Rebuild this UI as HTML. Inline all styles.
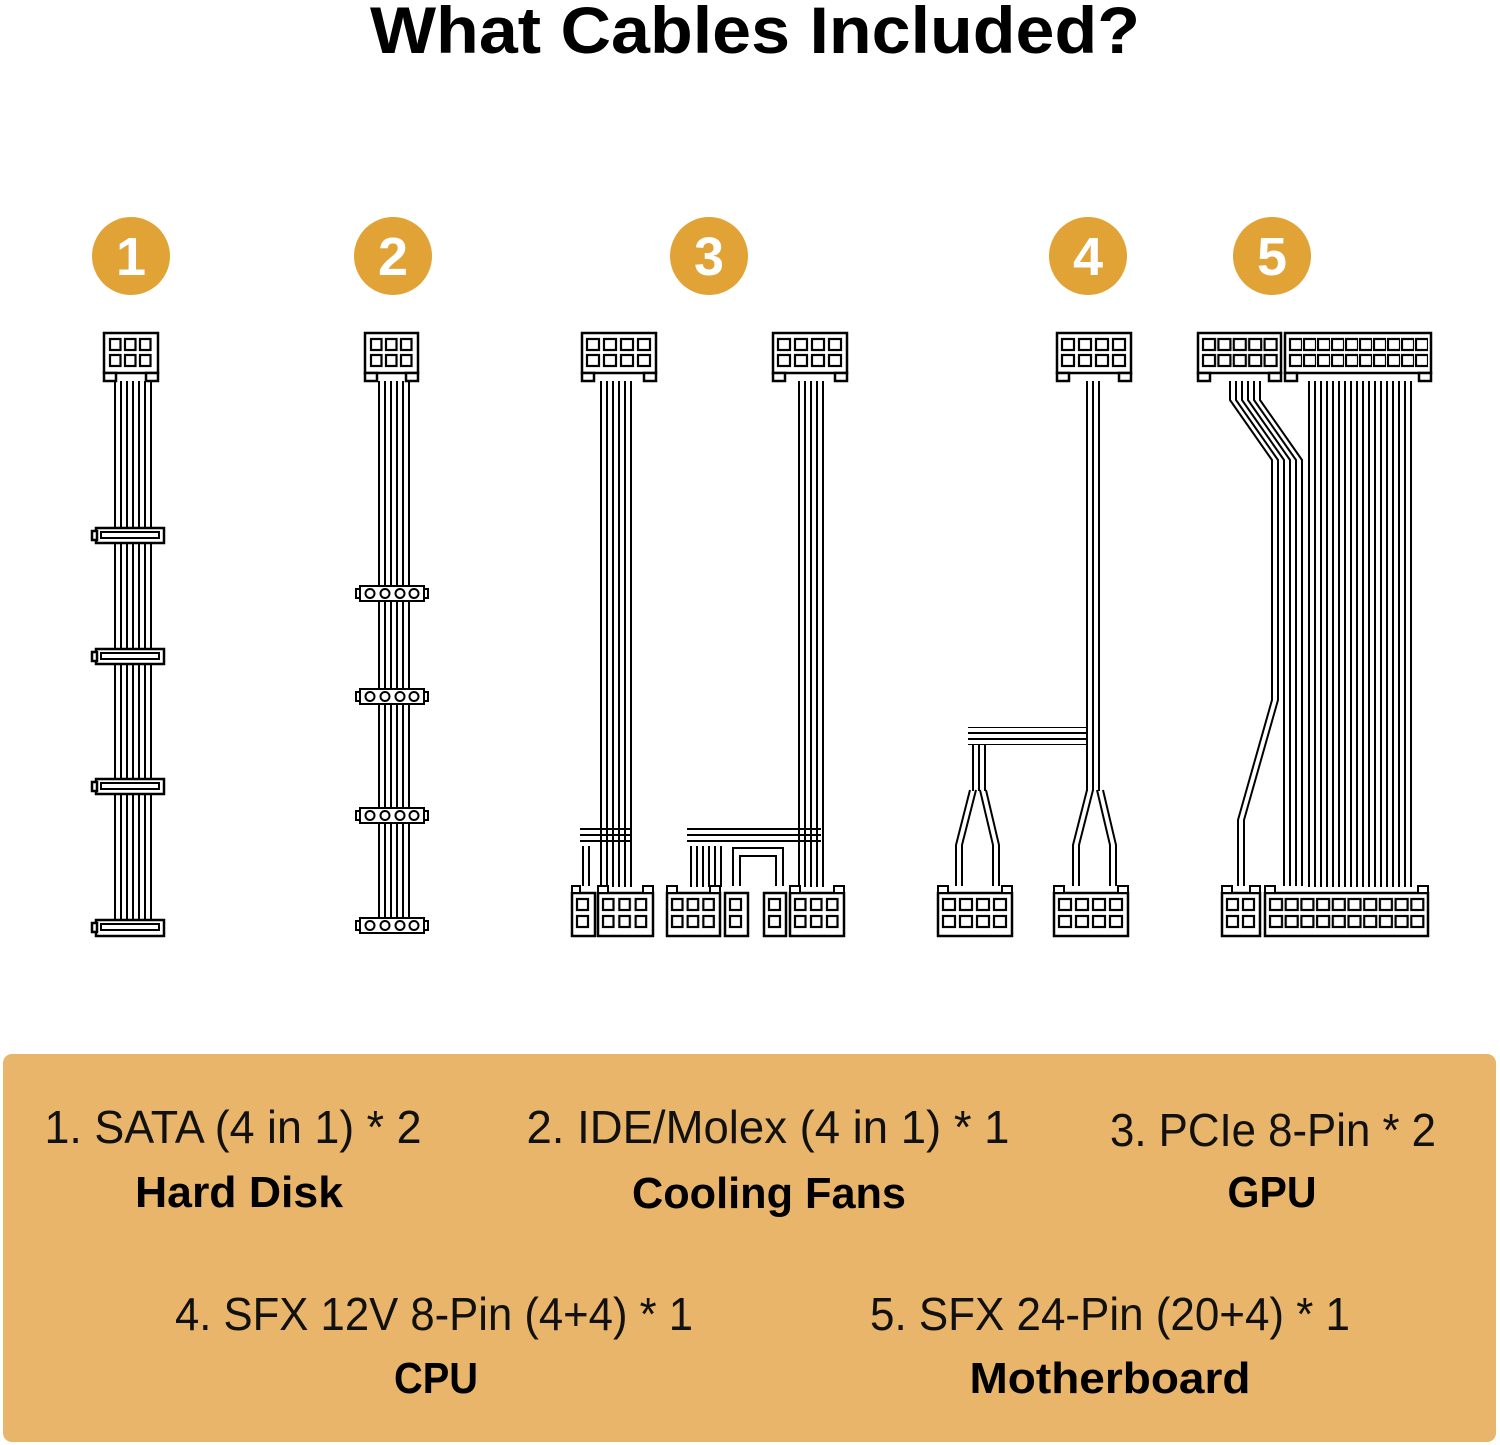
<!DOCTYPE html>
<html><head><meta charset="utf-8"><style>
html,body{margin:0;padding:0;background:#fff;}
svg{display:block;}
</style></head><body>
<svg width="1500" height="1445" viewBox="0 0 1500 1445" xmlns="http://www.w3.org/2000/svg">
<defs>
<pattern id="vw" width="6" height="10" patternUnits="userSpaceOnUse"><rect width="2" height="10" fill="#000"/></pattern>
<pattern id="hw" width="10" height="6" patternUnits="userSpaceOnUse"><rect width="10" height="2" fill="#000"/></pattern>
<pattern id="p1" width="1" height="0.5" patternUnits="objectBoundingBox"><rect x="2" y="2" width="11" height="11" fill="none" stroke="#000" stroke-width="2.2"/></pattern>
<pattern id="p2" width="0.5" height="0.5" patternUnits="objectBoundingBox"><rect x="2" y="2" width="11" height="11" fill="none" stroke="#000" stroke-width="2.2"/></pattern>
<pattern id="p3" width="0.3333" height="0.5" patternUnits="objectBoundingBox"><rect x="2" y="2" width="10.5" height="11" fill="none" stroke="#000" stroke-width="2.2"/></pattern>
<pattern id="p4" width="0.25" height="0.5" patternUnits="objectBoundingBox"><rect x="2" y="2" width="12" height="11" fill="none" stroke="#000" stroke-width="2.2"/></pattern>
<pattern id="p5" width="0.2" height="0.5" patternUnits="objectBoundingBox"><rect x="2" y="2" width="12" height="11" fill="none" stroke="#000" stroke-width="2.2"/></pattern>
<pattern id="p8" width="0.125" height="0.5" patternUnits="objectBoundingBox"><rect x="2" y="2" width="13" height="11" fill="none" stroke="#000" stroke-width="2.2"/></pattern>
<pattern id="p10" width="0.1" height="0.5" patternUnits="objectBoundingBox"><rect x="2" y="2" width="12" height="11" fill="none" stroke="#000" stroke-width="2.2"/></pattern>
</defs>
<rect width="1500" height="1445" fill="#fff"/>
<text x="755" y="53" font-family="Liberation Sans, sans-serif" font-weight="bold" font-size="66" text-anchor="middle" textLength="770" lengthAdjust="spacingAndGlyphs">What Cables Included?</text>

<g fill="#E1A236">
<circle cx="131" cy="256" r="39"/><circle cx="393" cy="256" r="39"/><circle cx="709" cy="256" r="39"/><circle cx="1088" cy="256" r="39"/><circle cx="1272" cy="256" r="39"/>
</g>
<g fill="#fff" font-family="Liberation Sans, sans-serif" font-weight="bold" font-size="54" text-anchor="middle">
<text x="131" y="275">1</text><text x="393" y="275">2</text><text x="709" y="275">3</text><text x="1088" y="275">4</text><text x="1272" y="275">5</text>
</g>

<g stroke="#000" stroke-width="2.5" fill="#fff">
<!-- Cable 1 -->
<rect x="112" y="381" width="40" height="548" fill="url(#vw)" stroke="none"/>
<rect x="104" y="333" width="54" height="40"/>
<rect x="104" y="373" width="12" height="8"/><rect x="146" y="373" width="12" height="8"/>
<rect x="108" y="337" width="45" height="32" fill="url(#p3)" stroke="none"/>
<g>
<rect x="96" y="528" width="68" height="15"/><rect x="92" y="531" width="5" height="9"/><rect x="101" y="532" width="58" height="6" fill="none" stroke-width="2"/>
<rect x="96" y="649" width="68" height="15"/><rect x="92" y="652" width="5" height="9"/><rect x="101" y="653" width="58" height="6" fill="none" stroke-width="2"/>
<rect x="96" y="779" width="68" height="15"/><rect x="92" y="782" width="5" height="9"/><rect x="101" y="783" width="58" height="6" fill="none" stroke-width="2"/>
<rect x="96" y="920" width="68" height="16"/><rect x="92" y="923" width="5" height="9"/><rect x="101" y="924" width="58" height="6" fill="none" stroke-width="2"/>
</g>

<!-- Cable 2 -->
<rect x="374" y="381" width="38" height="540" fill="url(#vw)" stroke="none"/>
<rect x="365" y="333" width="53" height="40"/>
<rect x="365" y="373" width="12" height="8"/><rect x="406" y="373" width="12" height="8"/>
<rect x="369" y="337" width="45" height="32" fill="url(#p3)" stroke="none"/>
<g stroke-width="2">
<rect x="360" y="586" width="64" height="15"/><rect x="356" y="589" width="4" height="9"/><rect x="424" y="589" width="4" height="9"/>
<circle cx="370" cy="593.5" r="4.5"/><circle cx="385" cy="593.5" r="4.5"/><circle cx="400" cy="593.5" r="4.5"/><circle cx="414" cy="593.5" r="4.5"/>
<rect x="360" y="689" width="64" height="15"/><rect x="356" y="692" width="4" height="9"/><rect x="424" y="692" width="4" height="9"/>
<circle cx="370" cy="696.5" r="4.5"/><circle cx="385" cy="696.5" r="4.5"/><circle cx="400" cy="696.5" r="4.5"/><circle cx="414" cy="696.5" r="4.5"/>
<rect x="360" y="808" width="64" height="15"/><rect x="356" y="811" width="4" height="9"/><rect x="424" y="811" width="4" height="9"/>
<circle cx="370" cy="815.5" r="4.5"/><circle cx="385" cy="815.5" r="4.5"/><circle cx="400" cy="815.5" r="4.5"/><circle cx="414" cy="815.5" r="4.5"/>
<rect x="360" y="918" width="64" height="15"/><rect x="356" y="921" width="4" height="9"/><rect x="424" y="921" width="4" height="9"/>
<circle cx="370" cy="925.5" r="4.5"/><circle cx="385" cy="925.5" r="4.5"/><circle cx="400" cy="925.5" r="4.5"/><circle cx="414" cy="925.5" r="4.5"/>
</g>

<!-- Cable 3 left -->
<rect x="600" y="381" width="36" height="506" fill="url(#vw)" stroke="none"/>
<rect x="580" y="826" width="50" height="20" fill="url(#hw)" stroke="none"/>
<rect x="580" y="846" width="12" height="40" fill="url(#vw)" stroke="none"/>
<rect x="582" y="333" width="74" height="40"/>
<rect x="582" y="373" width="12" height="8"/><rect x="644" y="373" width="12" height="8"/>
<rect x="585" y="337" width="68" height="32" fill="url(#p4)" stroke="none"/>
<!-- Cable 3 right -->
<rect x="794" y="381" width="34" height="506" fill="url(#vw)" stroke="none"/>
<rect x="687" y="826" width="134" height="20" fill="url(#hw)" stroke="none"/>
<rect x="686" y="846" width="36" height="41" fill="url(#vw)" stroke="none"/>
<path d="M733 886V848H783V886 M740 886V856H776V886" fill="none" stroke-width="2"/>
<rect x="773" y="333" width="74" height="40"/>
<rect x="773" y="373" width="12" height="8"/><rect x="835" y="373" width="12" height="8"/>
<rect x="776" y="337" width="68" height="32" fill="url(#p4)" stroke="none"/>
<!-- Cable 3 bottom connectors -->
<rect x="572" y="893" width="23" height="43"/><rect x="575" y="897" width="17" height="34" fill="url(#p1)" stroke="none"/>
<rect x="598" y="893" width="55" height="43"/><rect x="601" y="897" width="49" height="34" fill="url(#p3)" stroke="none"/>
<rect x="667" y="893" width="53" height="43"/><rect x="670" y="897" width="47" height="34" fill="url(#p3)" stroke="none"/>
<rect x="725" y="893" width="23" height="43"/><rect x="728" y="897" width="17" height="34" fill="url(#p1)" stroke="none"/>
<rect x="764" y="893" width="22" height="43"/><rect x="767" y="897" width="17" height="34" fill="url(#p1)" stroke="none"/>
<rect x="790" y="893" width="54" height="43"/><rect x="793" y="897" width="48" height="34" fill="url(#p3)" stroke="none"/>
<g stroke-width="2"><rect x="572" y="886" width="8" height="7"/><rect x="598" y="886" width="10" height="7"/><rect x="643" y="886" width="10" height="7"/><rect x="667" y="886" width="10" height="7"/><rect x="710" y="886" width="10" height="7"/><rect x="790" y="886" width="10" height="7"/><rect x="834" y="886" width="10" height="7"/></g>

<!-- Cable 4 -->
<rect x="1085" y="381" width="18" height="410" fill="url(#vw)" stroke="none"/>
<rect x="968" y="727" width="119" height="18" fill="url(#hw)" stroke="none"/>
<rect x="968" y="745" width="18" height="46" fill="url(#vw)" stroke="none"/>
<g fill="none" stroke-width="2">
<polyline points="970,790 956,845 956,886"/><polyline points="976,790 962,845 962,886"/>
<polyline points="980,790 993,845 993,886"/><polyline points="986,790 999,845 999,886"/>
<polyline points="1087,790 1073,845 1073,886"/><polyline points="1093,790 1079,845 1079,886"/>
<polyline points="1097,790 1110,845 1110,886"/><polyline points="1103,790 1116,845 1116,886"/>
</g>
<rect x="1057" y="333" width="74" height="40"/>
<rect x="1057" y="373" width="12" height="8"/><rect x="1119" y="373" width="12" height="8"/>
<rect x="1060" y="337" width="68" height="32" fill="url(#p4)" stroke="none"/>
<rect x="938" y="893" width="74" height="43"/><rect x="941" y="897" width="68" height="34" fill="url(#p4)" stroke="none"/>
<rect x="1054" y="893" width="74" height="43"/><rect x="1057" y="897" width="68" height="34" fill="url(#p4)" stroke="none"/>
<g stroke-width="2"><rect x="938" y="886" width="10" height="7"/><rect x="1002" y="886" width="10" height="7"/><rect x="1054" y="886" width="10" height="7"/><rect x="1118" y="886" width="10" height="7"/></g>

<!-- Cable 5 -->
<rect x="1305" y="381" width="108" height="506" fill="url(#vw)" stroke="none"/>
<g fill="none" stroke-width="2">
<polyline points="1230,381 1230,400 1272,460 1272,700 1238,820 1238,886"/>
<polyline points="1236,381 1236,400 1278,460 1278,700 1244,820 1244,886"/>
<polyline points="1242,381 1242,400 1284,460 1284,886"/><polyline points="1248,381 1248,400 1290,460 1290,886"/>
<polyline points="1254,381 1254,400 1296,460 1296,886"/><polyline points="1260,381 1260,400 1302,460 1302,886"/>
</g>
<rect x="1198" y="333" width="83" height="40"/>
<rect x="1198" y="373" width="12" height="8"/><rect x="1269" y="373" width="12" height="8"/>
<rect x="1201" y="337" width="77" height="32" fill="url(#p5)" stroke="none"/>
<rect x="1285" y="333" width="146" height="40"/>
<rect x="1285" y="373" width="12" height="8"/><rect x="1419" y="373" width="12" height="8"/>
<rect x="1288" y="337" width="140" height="32" fill="url(#p10)" stroke="none"/>
<rect x="1222" y="893" width="38" height="43"/><rect x="1225" y="897" width="32" height="34" fill="url(#p2)" stroke="none"/>
<rect x="1265" y="893" width="163" height="43"/><rect x="1268" y="897" width="157" height="34" fill="url(#p10)" stroke="none"/>
<g stroke-width="2"><rect x="1222" y="886" width="10" height="7"/><rect x="1250" y="886" width="10" height="7"/><rect x="1265" y="886" width="10" height="7"/><rect x="1418" y="886" width="10" height="7"/></g>
</g>

<rect x="3" y="1054" width="1493" height="388" rx="9" fill="#E8B56A"/>
<g font-family="Liberation Sans Narrow, Liberation Sans, sans-serif" font-size="46" fill="#111" text-anchor="middle">
<text x="233" y="1143" textLength="377" lengthAdjust="spacingAndGlyphs">1. SATA (4 in 1) * 2</text>
<text x="768" y="1143" textLength="483" lengthAdjust="spacingAndGlyphs">2. IDE/Molex (4 in 1) * 1</text>
<text x="1273" y="1146" textLength="326" lengthAdjust="spacingAndGlyphs">3. PCIe 8-Pin * 2</text>
<text x="434" y="1330" textLength="518" lengthAdjust="spacingAndGlyphs">4. SFX 12V 8-Pin (4+4) * 1</text>
<text x="1110" y="1330" textLength="480" lengthAdjust="spacingAndGlyphs">5. SFX 24-Pin (20+4) * 1</text>
</g>
<g font-family="Liberation Sans Narrow, Liberation Sans, sans-serif" font-weight="bold" font-size="44" fill="#000" text-anchor="middle">
<text x="239" y="1207" textLength="208" lengthAdjust="spacingAndGlyphs">Hard Disk</text>
<text x="769" y="1208" textLength="274" lengthAdjust="spacingAndGlyphs">Cooling Fans</text>
<text x="1272" y="1207" textLength="89" lengthAdjust="spacingAndGlyphs">GPU</text>
<text x="436" y="1393" textLength="84" lengthAdjust="spacingAndGlyphs">CPU</text>
<text x="1110" y="1393" textLength="281" lengthAdjust="spacingAndGlyphs">Motherboard</text>
</g>
</svg>
</body></html>
